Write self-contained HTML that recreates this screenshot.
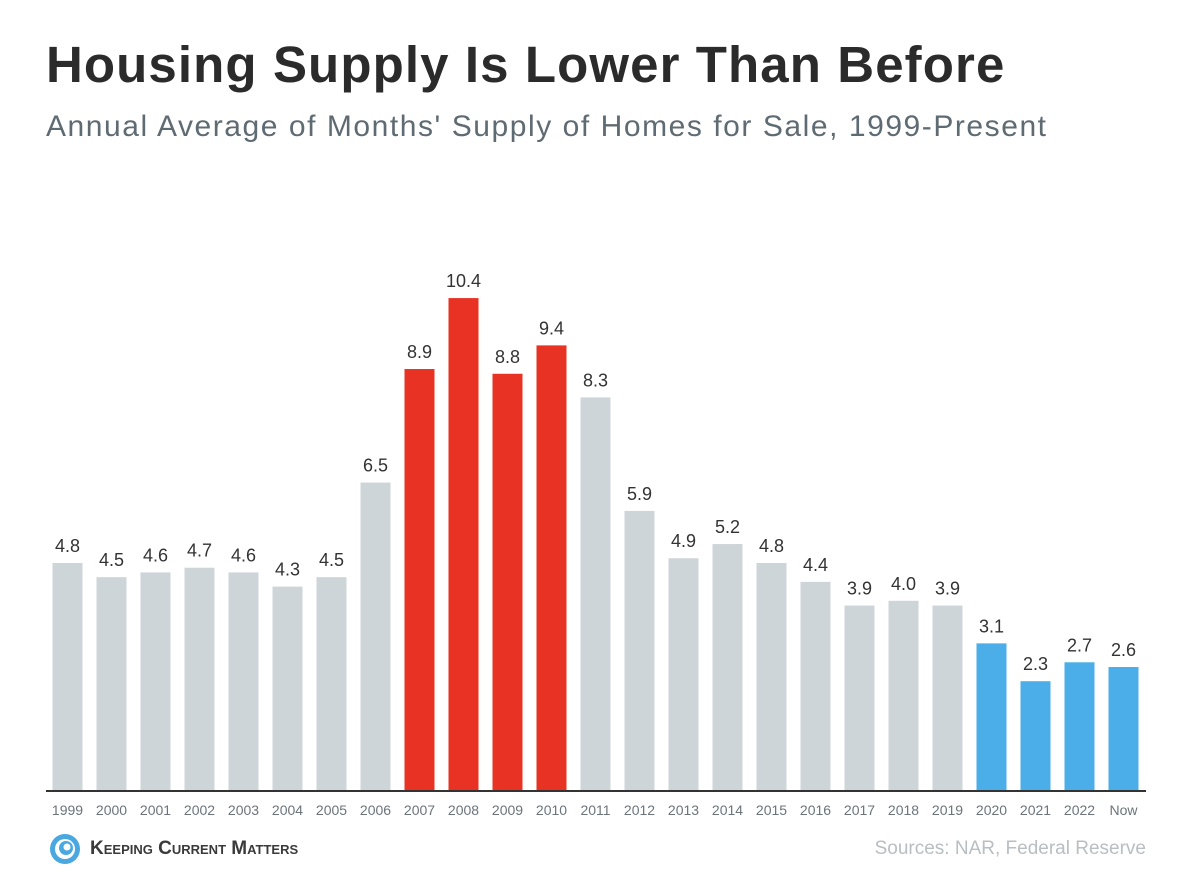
<!DOCTYPE html>
<html><head><meta charset="utf-8"><style>
body{margin:0;width:1190px;height:892px;background:#fff;font-family:"Liberation Sans",Arial,sans-serif;overflow:hidden;position:relative}
h1{position:absolute;left:46px;top:35px;margin:0;font-size:51px;font-weight:bold;color:#2b2b2b;letter-spacing:1.1px}
h2{position:absolute;left:46px;top:110px;margin:0;font-size:30px;font-weight:normal;color:#5f6b73;letter-spacing:1.55px}
#src{position:absolute;right:44px;top:838px;font-size:19px;color:#b8bec2}
#logo{position:absolute;left:48px;top:832px;display:flex;align-items:center}
#logo span{font-size:19px;font-weight:bold;color:#3a3a3a;margin-left:8px;font-variant:small-caps;letter-spacing:0px}
</style></head><body>
<h1>Housing Supply Is Lower Than Before</h1>
<h2>Annual Average of Months' Supply of Homes for Sale, 1999-Present</h2>
<svg id="chart" width="1190" height="892" style="position:absolute;left:0;top:0"></svg>
<div id="logo"><svg width="34" height="34" viewBox="0 0 34 34"><circle cx="17" cy="17" r="15" fill="#4aa8e0"/><circle cx="17" cy="17" r="10" fill="#fff"/><circle cx="18" cy="16" r="7" fill="#4aa8e0"/><circle cx="19" cy="15" r="3.5" fill="#fff"/></svg><span>Keeping Current Matters</span></div>
<div id="src">Sources: NAR, Federal Reserve</div>
<script>
const categories=["1999","2000","2001","2002","2003","2004","2005","2006","2007","2008","2009","2010","2011","2012","2013","2014","2015","2016","2017","2018","2019","2020","2021","2022","Now"];
const values=[4.8,4.5,4.6,4.7,4.6,4.3,4.5,6.5,8.9,10.4,8.8,9.4,8.3,5.9,4.9,5.2,4.8,4.4,3.9,4.0,3.9,3.1,2.3,2.7,2.6];
const groups=["g","g","g","g","g","g","g","g","r","r","r","r","g","g","g","g","g","g","g","g","g","b","b","b","b"];
const colors={g:"#ced5d8",r:"#e83324",b:"#4baee8"};
const svg=document.getElementById('chart');const NS="http://www.w3.org/2000/svg";
const x=i=>67.5+i*44, y=v=>790-v*47.3, bw=30;
categories.forEach((c,i)=>{
 const r=document.createElementNS(NS,'rect');
 r.setAttribute('x',x(i)-bw/2);r.setAttribute('y',y(values[i]));r.setAttribute('width',bw);r.setAttribute('height',790-y(values[i]));r.setAttribute('fill',colors[groups[i]]);
 
 
 svg.appendChild(r);
 const t=document.createElementNS(NS,'text');
 t.setAttribute('x',x(i));t.setAttribute('y',y(values[i])-11);t.setAttribute('text-anchor','middle');t.setAttribute('font-size','18');t.setAttribute('fill','#333');
 t.textContent=values[i].toFixed(1);
 
 
 svg.appendChild(t);
 const l=document.createElementNS(NS,'text');
 l.setAttribute('x',x(i));l.setAttribute('y',815);l.setAttribute('text-anchor','middle');l.setAttribute('font-size','14');l.setAttribute('fill','#6b747b');
 l.textContent=c;
 
 
 svg.appendChild(l);
});
const ax=document.createElementNS(NS,'line');
ax.setAttribute('x1',46);ax.setAttribute('x2',1146);ax.setAttribute('y1',791);ax.setAttribute('y2',791);ax.setAttribute('stroke','#333');ax.setAttribute('stroke-width','2');


svg.appendChild(ax);
</script>
</body></html>
